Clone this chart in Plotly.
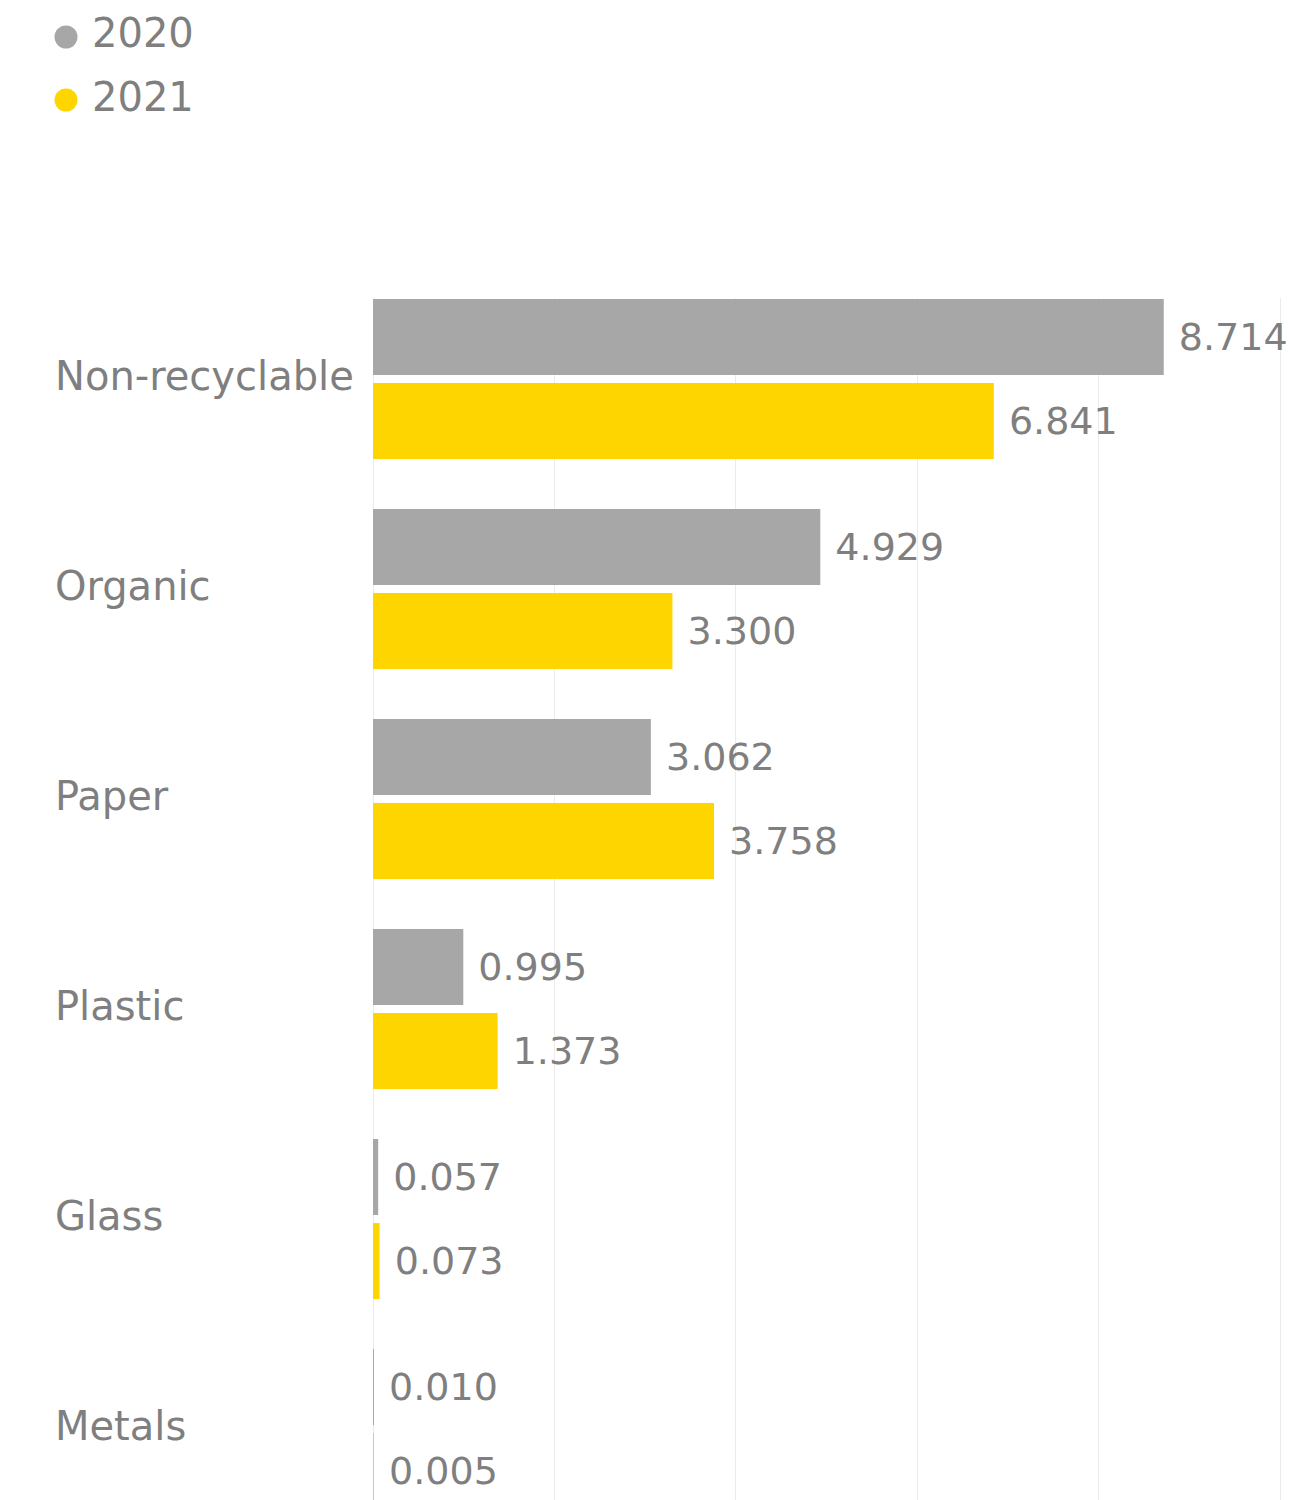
import plotly.graph_objects as go

categories = ["Non-recyclable", "Organic", "Paper", "Plastic", "Glass", "Metals"]
values_2020 = [8.714, 4.929, 3.062, 0.995, 0.057, 0.010]
values_2021 = [6.841, 3.300, 3.758, 1.373, 0.073, 0.005]
series_names = ["2020", "2021"]
colors = ["#A7A7A7", "#FFD500"]

W, H = 1297, 1500
ML, MR, MT, MB = 373, 12, 298, 0
PW, PH = W - ML - MR, H - MT - MB
FONT = "DejaVu Sans"
TXT = "#7F7F7F"

def px_x(px):
    return (px - ML) / PW

def px_y(py):
    return (H - MB - py) / PH

fig = go.Figure()
for name, vals, col in zip(series_names, [values_2020, values_2021], colors):
    fig.add_trace(go.Bar(
        name=name, y=categories, x=vals, orientation="h",
        marker=dict(color=col, line=dict(width=0)),
        text=["\u00a0" + f"{v:.3f}" for v in vals],
        textposition="outside", cliponaxis=False, constraintext="none",
        textfont=dict(family=FONT, size=38, color=TXT),
        showlegend=False,
    ))

# category labels, left-aligned
for c in categories:
    fig.add_annotation(x=px_x(53), xref="paper", y=c, yref="y", text=c,
                       showarrow=False, xanchor="left", yanchor="middle", yshift=3,
                       font=dict(family=FONT, size=40, color=TXT))

# legend
legend_text_y = [33, 97]
legend_dot_y = [37, 100]
for name, col, ty, dy in zip(series_names, colors, legend_text_y, legend_dot_y):
    r = 11.5
    fig.add_shape(type="circle", xref="paper", yref="paper",
                  x0=px_x(66 - r), x1=px_x(66 + r), y0=px_y(dy + r), y1=px_y(dy - r),
                  fillcolor=col, line=dict(width=0))
    fig.add_annotation(x=px_x(90), xref="paper", y=px_y(ty), yref="paper", text=name,
                       showarrow=False, xanchor="left", yanchor="middle",
                       font=dict(family=FONT, size=40, color=TXT))

fig.update_layout(
    width=W, height=H,
    margin=dict(l=ML, r=MR, t=MT, b=MB, pad=0),
    paper_bgcolor="white", plot_bgcolor="white",
    barmode="group", bargap=0.2, bargroupgap=0.0952,
    xaxis=dict(range=[0, 10.05], dtick=2, showticklabels=False, showgrid=True,
               gridcolor="#EBEBEB", gridwidth=1, zeroline=True, zerolinecolor="#EBEBEB",
               zerolinewidth=1, showline=False, fixedrange=True),
    yaxis=dict(categoryorder="array", categoryarray=categories,
               range=[5.338, -0.386], showticklabels=False, showgrid=False,
               zeroline=False, showline=False, fixedrange=True),
    font=dict(family=FONT, color=TXT),
)

fig.write_html("out.html")
